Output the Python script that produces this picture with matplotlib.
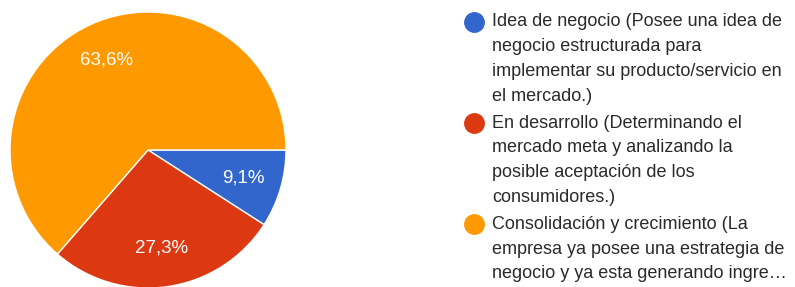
import matplotlib.pyplot as plt
from matplotlib.lines import Line2D

labels = [
    "Idea de negocio (Posee una idea de\nnegocio estructurada para\nimplementar su producto/servicio en\nel mercado.)",
    "En desarrollo (Determinando el\nmercado meta y analizando la\nposible aceptación de los\nconsumidores.)",
    "Consolidación y crecimiento (La\nempresa ya posee una estrategia de\nnegocio y ya esta generando ingre…",
]
shares = [9.1, 27.3, 63.6]
colors = ["#3366cc", "#dc3912", "#ff9900"]

W, H = 795, 287
fig = plt.figure(figsize=(W / 100, H / 100), dpi=100)
plt.rcParams["font.family"] = ["Liberation Sans", "DejaVu Sans"]

cx, cy, r = 148, 137, 138
ax = fig.add_axes([(cx - r) / W, (cy - r) / H, 2 * r / W, 2 * r / H])
ax.pie(
    shares,
    colors=colors,
    startangle=0,
    counterclock=False,
    autopct=lambda p: f"{p:.1f}%".replace(".", ","),
    pctdistance=0.72,
    radius=1.0,
    wedgeprops={"edgecolor": "white", "linewidth": 1},
    textprops={"color": "white", "fontsize": 13.5},
)
ax.set_xlim(-1, 1)
ax.set_ylim(-1, 1)
ax.set_aspect("auto")
ax.axis("off")

# legend drawn by hand, one block per category
line_h = 24.9
y = 22
for lab, c in zip(labels, colors):
    fig.add_artist(Line2D([474 / W], [1 - y / H], marker="o", markersize=14,
                          color=c, transform=fig.transFigure))
    for ln in lab.split("\n"):
        fig.text(492 / W, 1 - y / H, ln, fontsize=13.0, color="#2a2a2a",
                 va="center", ha="left")
        y += line_h
    y += 1.5

fig.savefig("out.png", dpi=100)
